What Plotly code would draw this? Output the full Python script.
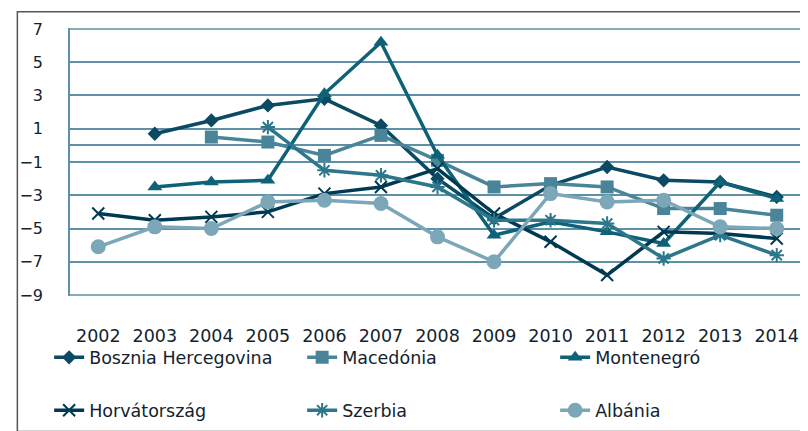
import plotly.graph_objects as go

years = ["2002", "2003", "2004", "2005", "2006", "2007", "2008",
         "2009", "2010", "2011", "2012", "2013", "2014"]

bosnia = [None, 0.7, 1.5, 2.4, 2.8, 1.2, -2.0, -4.4, -2.4, -1.3, -2.1, -2.2, -3.1]
macedonia = [None, None, 0.5, 0.2, -0.6, 0.6, -0.9, -2.5, -2.3, -2.5, -3.8, -3.8, -4.2]
montenegro = [None, -2.5, -2.2, -2.1, 3.1, 6.2, -0.6, -5.4, -4.6, -5.2, -5.9, -2.2, -3.2]
croatia = [-4.1, -4.5, -4.3, -4.0, -2.9, -2.5, -1.4, -4.1, -5.8, -7.8, -5.2, -5.3, -5.6]
serbia = [None, None, None, 1.1, -1.5, -1.8, -2.5, -4.5, -4.5, -4.7, -6.8, -5.4, -6.6]
albania = [-6.1, -4.9, -5.0, -3.4, -3.3, -3.5, -5.5, -7.0, -2.9, -3.4, -3.3, -4.9, -5.0]

y_ticks = [-9, -7, -5, -3, -1, 1, 3, 5, 7]

series = [
    ("Bosznia Hercegovina", bosnia, "#0B4A62", "diamond", 11, "legend"),
    ("Macedónia", macedonia, "#4A8499", "square", 13, "legend"),
    ("Montenegró", montenegro, "#0F6177", "triangle-up", 13, "legend"),
    ("Horvátország", croatia, "#003A52", "x-thin-open", 12, "legend2"),
    ("Szerbia", serbia, "#2C778C", "asterisk-open", 12, "legend2"),
    ("Albánia", albania, "#7BA7B9", "circle", 15, "legend2"),
]

fig = go.Figure()
for name, vals, color, sym, size, leg in series:
    open_sym = sym.endswith("open")
    fig.add_trace(go.Scatter(
        x=years, y=vals, name=name, mode="lines+markers",
        line=dict(color=color, width=3.5),
        marker=dict(symbol=sym, size=size, color=color,
                    line=dict(color=color, width=2 if open_sym else 0)),
        connectgaps=False, legend=leg,
    ))

L, R, T, B = 57, 11, 20, 132
W, H = 808, 431
pw = W - L - R
ph = H - T - B
pad = 16 / 277.0  # one pixel in data units

grid_c = "#5E91A6"
txt_c = "#13232E"
FONT = "DejaVu Sans"
fig.update_layout(
    width=W, height=H,
    margin=dict(l=L, r=R, t=T, b=B),
    paper_bgcolor="white", plot_bgcolor="white",
    font=dict(family=FONT, size=17, color=txt_c),
    xaxis=dict(type="category", range=[-0.5, 12.5], showgrid=False,
               showline=False, zeroline=False, ticks="",
               ticklabelstandoff=27, tickfont=dict(family=FONT, size=17.5, color=txt_c)),
    yaxis=dict(range=[-9 - pad, 7 + pad], tickvals=y_ticks, showgrid=True,
               gridcolor=grid_c, gridwidth=1.5, zeroline=True,
               zerolinecolor=grid_c, zerolinewidth=1.5,
               showline=True, linecolor=grid_c, linewidth=1.5,
               ticks="", ticklabelstandoff=22,
               tickfont=dict(family=FONT, size=16, color=txt_c)),
    legend=dict(orientation="h", x=(36 - L) / pw, y=1 - (363 - T) / ph,
                xanchor="left", yanchor="middle",
                entrywidth=208, entrywidthmode="pixels",
                font=dict(family=FONT, size=17.5, color=txt_c), bgcolor="rgba(0,0,0,0)"),
    legend2=dict(orientation="h", x=(36 - L) / pw, y=1 - (418 - T) / ph,
                 xanchor="left", yanchor="middle",
                 entrywidth=208, entrywidthmode="pixels",
                 font=dict(family=FONT, size=17.5, color=txt_c), bgcolor="rgba(0,0,0,0)"),
    showlegend=True,
)

# top and bottom gridlines (edges of the value range)
for yv in (y_ticks[0], y_ticks[-1]):
    fig.add_shape(type="line", xref="paper", yref="y", x0=0, x1=1, y0=yv, y1=yv,
                  line=dict(color=grid_c, width=1.5), layer="below")

# outer chart frame
fig.add_shape(type="rect", xref="paper", yref="paper",
              x0=(4 - L) / pw, x1=(806 - L) / pw,
              y0=1 - (440 - T) / ph, y1=1 - (3 - T) / ph,
              line=dict(color="#555555", width=1.5), fillcolor="rgba(0,0,0,0)",
              layer="below")

fig.write_html("out.html")
